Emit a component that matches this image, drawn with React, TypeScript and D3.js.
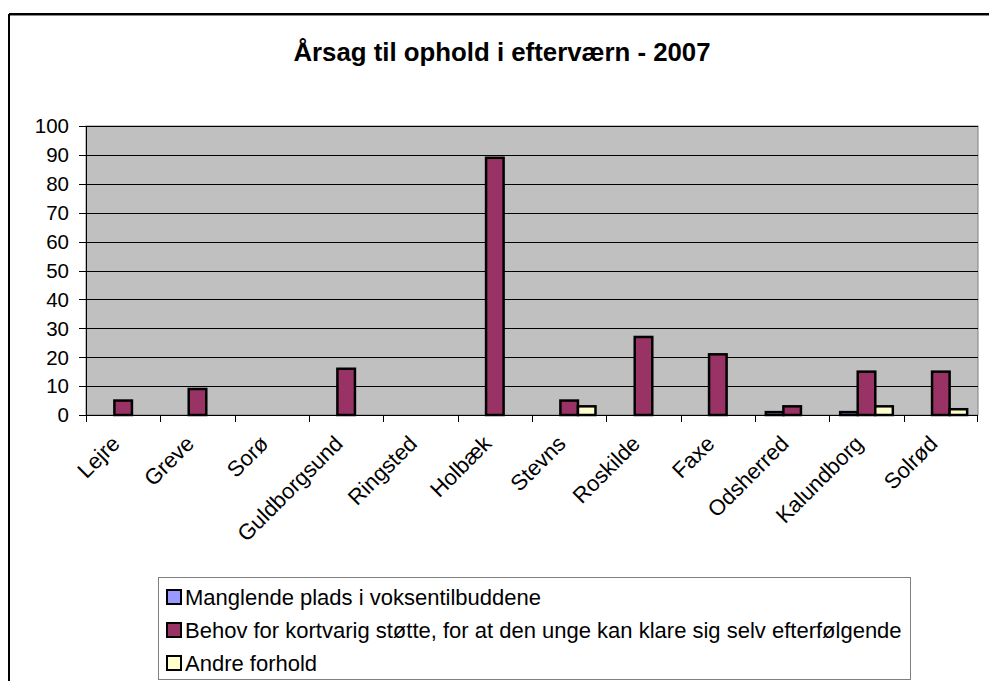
import React from "react";
import * as d3 from "d3";

const categories = ["Lejre", "Greve", "Sorø", "Guldborgsund", "Ringsted", "Holbæk", "Stevns", "Roskilde", "Faxe", "Odsherred", "Kalundborg", "Solrød"];
const seriesNames = [
  "Manglende plads i voksentilbuddene",
  "Behov for kortvarig støtte, for at den unge kan klare sig selv efterfølgende",
  "Andre forhold",
];
const manglende = [0, 0, 0, 0, 0, 0, 0, 0, 0, 1, 1, 0];
const behov = [5, 9, 0, 16, 0, 89, 5, 27, 21, 3, 15, 15];
const andre = [0, 0, 0, 0, 0, 0, 3, 0, 0, 0, 3, 2];
const yTicks = [0, 10, 20, 30, 40, 50, 60, 70, 80, 90, 100];
const title = "Årsag til ophold i efterværn - 2007";

const colors = ["#9999FF", "#993366", "#FFFFCC"];
const font = "'Liberation Sans', Arial, sans-serif";

export default function App() {
  const W = 989, H = 681;
  const left = 86, right = 978, top = 126, bottom = 415;
  const x = d3.scaleBand<string>().domain(categories).range([left, right]).paddingInner(0).paddingOuter(0);
  const y = d3.scaleLinear().domain([0, 100]).range([bottom, top]);
  const bw = x.bandwidth() * 0.236;
  const inner = d3.scaleBand<number>().domain([0, 1, 2]).range([-1.5 * bw, 1.5 * bw]);
  const data = [manglende, behov, andre];

  return (
    <svg width={W} height={H} style={{ position: "absolute", left: 0, top: 0, background: "#fff" }} fontFamily={font}>
      <rect x={0} y={0} width={W} height={H} fill="#fff" />
      {/* outer chart border */}
      <line x1={9} y1={14} x2={W} y2={14} stroke="#000" strokeWidth={2} />
      <line x1={9} y1={14} x2={9} y2={H} stroke="#000" strokeWidth={2} />
      <line x1={10} y1={15.5} x2={W} y2={15.5} stroke="#888" strokeWidth={1} />
      <text x={502} y={61} textAnchor="middle" fontWeight="bold" fontSize={25.8}>{title}</text>

      {/* plot area */}
      <rect x={left} y={top} width={right - left} height={bottom - top} fill="#C0C0C0" stroke="#808080" strokeWidth={1} />
      {yTicks.map((t) => (
        <g key={t}>
          {t > 0 && <line x1={left} x2={right} y1={Math.round(y(t)) + 0.5} y2={Math.round(y(t)) + 0.5} stroke="#000" strokeWidth={1} />}
          <line x1={left - 7} x2={left} y1={Math.round(y(t)) + 0.5} y2={Math.round(y(t)) + 0.5} stroke="#000" strokeWidth={1} />
          <text x={69} y={y(t)} dy="0.36em" textAnchor="end" fontSize={20.5}>{t}</text>
        </g>
      ))}
      {/* bars */}
      {data.map((vals, si) =>
        vals.map((v, ci) => {
          if (v <= 0) return null;
          const cx = (x(categories[ci]) as number) + x.bandwidth() / 2;
          const bx = cx + (inner(si) as number);
          return (
            <rect key={si + "-" + ci} x={bx} y={y(v)} width={bw} height={y(0) - y(v)} fill={colors[si]} stroke="#000" strokeWidth={2.5} />
          );
        })
      )}
      {/* axes */}
      <line x1={left + 0.5} x2={left + 0.5} y1={top} y2={bottom} stroke="#000" strokeWidth={1} />
      <line x1={left} x2={right} y1={bottom + 0.5} y2={bottom + 0.5} stroke="#000" strokeWidth={1} />
      {categories.map((c, i) => {
        const tx = Math.round(left + i * x.step()) + 0.5;
        return <line key={"t" + i} x1={tx} x2={tx} y1={bottom} y2={bottom + 7} stroke="#000" strokeWidth={1} />;
      })}
      <line x1={right - 0.5} x2={right - 0.5} y1={bottom} y2={bottom + 7} stroke="#000" strokeWidth={1} />
      {categories.map((c) => {
        const cx = (x(c) as number) + x.bandwidth() / 2 - 2;
        const cy = bottom + 30;
        return (
          <text key={c} x={cx} y={cy} textAnchor="end" fontSize={22} transform={`rotate(-45 ${cx} ${cy})`}>{c}</text>
        );
      })}

      {/* legend */}
      <rect x={158.5} y={577.5} width={752} height={102} fill="#fff" stroke="#808080" strokeWidth={1} />
      {seriesNames.map((s, i) => {
        const ry = 597 + i * 33;
        return (
          <g key={s}>
            <rect x={167} y={ry - 7} width={14} height={14} fill={colors[i]} stroke="#000" strokeWidth={2} />
            <text x={185} y={ry} dy="0.36em" fontSize={22}>{s}</text>
          </g>
        );
      })}
    </svg>
  );
}
